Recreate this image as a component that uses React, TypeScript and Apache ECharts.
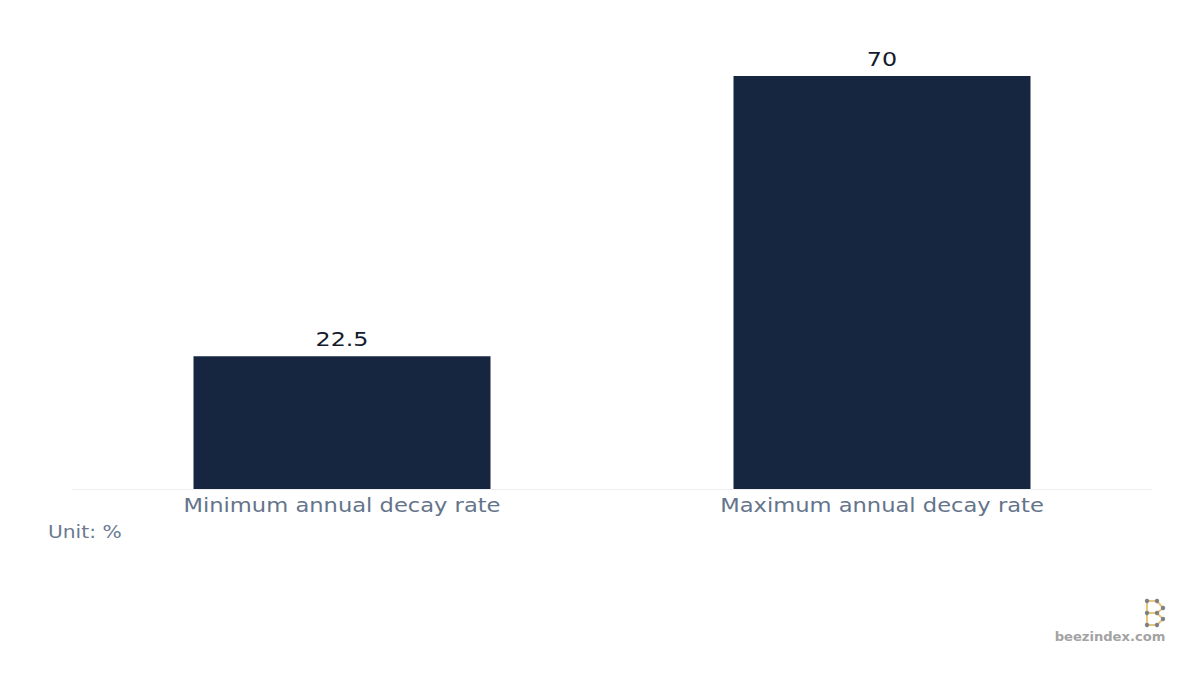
import React, { useEffect, useRef } from "react";
import * as echarts from "echarts";

const categories = ["Minimum annual decay rate", "Maximum annual decay rate"];
const values = [22.5, 70];
const unitLabel = "Unit: %";
const brand = "beezindex.com";

const FONT = "DejaVu Sans, Verdana, sans-serif";
const STRETCH = 1.19;

export default function App() {
  const ref = useRef<HTMLDivElement>(null);
  useEffect(() => {
    if (!ref.current) return;
    const chart = echarts.init(ref.current, null, { renderer: "svg" });
    const gold = "#e9c57a";
    const dot = "#7d8289";
    const pts: [number, number][] = [
      [1147, 601], [1157, 601], [1163, 608], [1157, 613], [1147, 613],
      [1163, 619], [1157, 625], [1147, 625],
    ];
    const logoLines = [
      [[1147, 601], [1157, 601], [1163, 608], [1157, 613], [1147, 613]],
      [[1157, 613], [1163, 619], [1157, 625], [1147, 625]],
      [[1147, 601], [1147, 625]],
    ];
    const staticGraphic: any[] = [
      {
        type: "text",
        x: 48,
        y: 532,
        scaleX: STRETCH,
        style: {
          text: unitLabel,
          font: `17px ${FONT}`,
          fill: "#6b7a90",
          align: "left",
          verticalAlign: "middle",
        },
      },
      {
        type: "text",
        x: 1110,
        y: 637,
        scaleX: 1.05,
        style: {
          text: brand,
          font: `bold 12.5px ${FONT}`,
          fill: "#a3a3a3",
          align: "center",
          verticalAlign: "middle",
        },
      },
      ...logoLines.map((l) => ({
        type: "polyline",
        shape: { points: l },
        style: { stroke: gold, lineWidth: 2, fill: null },
      })),
      ...pts.map((p) => ({
        type: "circle",
        shape: { cx: p[0], cy: p[1], r: 2.2 },
        style: { fill: dot },
      })),
    ];
    chart.setOption({
      animation: false,
      grid: { left: 72, right: 48, top: 76, bottom: 186, containLabel: false },
      xAxis: {
        type: "category",
        data: categories,
        axisLine: { show: true, lineStyle: { color: "#eeeeee", width: 1 } },
        axisTick: { show: false },
        axisLabel: { show: false },
      },
      yAxis: {
        type: "value",
        min: 0,
        max: 70,
        show: false,
        splitLine: { show: false },
      },
      series: [
        {
          type: "bar",
          data: values,
          barWidth: "55%",
          itemStyle: { color: "#172640" },
          label: { show: false },
        },
      ],
      graphic: staticGraphic,
    });

    // Texts are stretched horizontally like the reference; placed through the chart's scales.
    const textGraphic: any[] = [];
    categories.forEach((c, i) => {
      const base = chart.convertToPixel({ seriesIndex: 0 }, [i, 0]) as number[];
      const top = chart.convertToPixel({ seriesIndex: 0 }, [i, values[i]]) as number[];
      textGraphic.push({
        type: "text",
        x: base[0],
        y: base[1] + 17,
        scaleX: STRETCH,
        style: {
          text: c,
          font: `19px ${FONT}`,
          fill: "#64748b",
          align: "center",
          verticalAlign: "middle",
        },
      });
      textGraphic.push({
        type: "text",
        x: top[0],
        y: top[1] - 17,
        scaleX: STRETCH,
        style: {
          text: String(values[i]),
          font: `20px ${FONT}`,
          fill: "#141b2d",
          align: "center",
          verticalAlign: "middle",
        },
      });
    });
    chart.setOption({ graphic: [...staticGraphic, ...textGraphic] });
    return () => chart.dispose();
  }, []);
  return <div ref={ref} style={{ width: 1200, height: 675, margin: -8 }} />;
}
